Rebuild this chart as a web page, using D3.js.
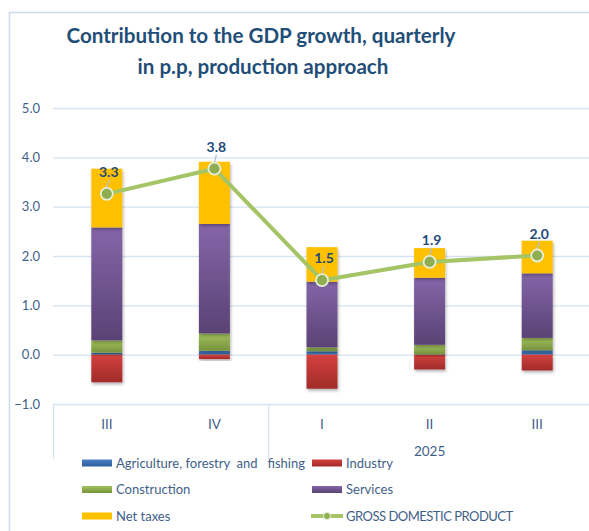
<!DOCTYPE html>
<html>
<head>
<meta charset="utf-8">
<script src="https://cdn.jsdelivr.net/npm/d3@7"></script>
<style>
  body { margin: 0; background: #fff; }
  svg { display: block; font-family: Lato, "Liberation Sans", sans-serif; }
</style>
</head>
<body>
<svg width="589" height="531"></svg>
<script>
(function () {
  'use strict';

  // quarters and year group
  const quarters = ['III', 'IV', 'I', 'II', 'III'];
  const yearLabel = '2025';
  const yTicks = [-1, 0, 1, 2, 3, 4, 5];

  // contributions in p.p.
  const agriculture  = [0.04, 0.08, 0.07, 0.01, 0.09];
  const industry     = [-0.56, -0.09, -0.69, -0.30, -0.32];
  const construction = [0.25, 0.35, 0.08, 0.19, 0.25];
  const services     = [2.29, 2.22, 1.33, 1.36, 1.31];
  const netTaxes     = [1.19, 1.26, 0.70, 0.60, 0.66];
  const gdp          = [3.26, 3.77, 1.51, 1.88, 2.01];

  const svg = d3.select('svg');
  const width = +svg.attr('width');
  const height = +svg.attr('height');

  const margin = {top: 108, right: -2, bottom: 127, left: 53};
  const innerW = width - margin.left - margin.right;
  const innerH = height - margin.top - margin.bottom;

  const series = [
    {key: 'agri', name: 'Agriculture, forestry  and   fishing', top: '#4a7fc4', bot: '#2f5f9e', values: agriculture},
    {key: 'ind', name: 'Industry', top: '#d4413e', bot: '#a02b29', values: industry},
    {key: 'con', name: 'Construction', top: '#a2c25e', bot: '#76923c', values: construction},
    {key: 'ser', name: 'Services', top: '#8466a8', bot: '#5a4275', values: services},
    {key: 'tax', name: 'Net taxes', top: '#ffc000', bot: '#ffc000', values: netTaxes}
  ];

  const rows = quarters.map((q, i) => {
    const r = {i: i};
    series.forEach(s => { r[s.key] = s.values[i]; });
    return r;
  });

  const stack = d3.stack()
    .keys(series.map(s => s.key))
    .offset(d3.stackOffsetDiverging);
  const stacked = stack(rows);

  const x = d3.scaleBand()
    .domain(d3.range(quarters.length))
    .range([0, innerW])
    .padding(0);
  const barW = 31;

  const y = d3.scaleLinear()
    .domain([-1, 5])
    .range([innerH, 0]);

  // gradients + shadow
  const defs = svg.append('defs');
  series.forEach(s => {
    const gr = defs.append('linearGradient')
      .attr('id', 'g-' + s.key)
      .attr('x1', 0).attr('y1', 0).attr('x2', 0).attr('y2', 1);
    gr.append('stop').attr('offset', '0%').attr('stop-color', s.top);
    gr.append('stop').attr('offset', '100%').attr('stop-color', s.bot);
  });
  defs.append('filter').attr('id', 'shadow')
    .attr('x', '-20%').attr('y', '-20%').attr('width', '150%').attr('height', '150%')
    .append('feDropShadow')
      .attr('dx', 1).attr('dy', 2).attr('stdDeviation', 1.5)
      .attr('flood-color', '#000').attr('flood-opacity', 0.3);

  // frame
  svg.append('rect')
    .attr('x', 9.5).attr('y', 12.5)
    .attr('width', 620).attr('height', 560)
    .attr('fill', 'none')
    .attr('stroke', '#c9dbef')
    .attr('stroke-width', 1.5);

  // title
  const title = svg.append('text')
    .attr('x', 261)
    .attr('text-anchor', 'middle')
    .attr('fill', '#1f4e79')
    .attr('font-weight', 'bold')
    .attr('font-size', 20.6);
  title.append('tspan').attr('x', 261).attr('y', 43).text('Contribution to the GDP growth, quarterly');
  title.append('tspan').attr('x', 263).attr('y', 74).text('in p.p, production approach');

  const g = svg.append('g')
    .attr('transform', `translate(${margin.left},${margin.top})`);

  // y axis + gridlines
  const yAxis = d3.axisLeft(y)
    .tickValues(yTicks)
    .tickFormat(d3.format('.1f'))
    .tickSize(-innerW)
    .tickPadding(13);
  const yAxisG = g.append('g').call(yAxis);
  yAxisG.select('.domain').remove();
  yAxisG.selectAll('line').attr('stroke', '#d6e3f3').attr('stroke-width', 1.3);
  yAxisG.selectAll('text')
    .attr('fill', '#3f5f8a')
    .attr('font-size', 13)
    .attr('font-family', 'Lato, sans-serif');

  // x axis (quarters)
  const xAxis = d3.axisBottom(x)
    .tickFormat(i => quarters[i])
    .tickSize(0)
    .tickPadding(15);
  const xAxisG = g.append('g')
    .attr('transform', `translate(0,${innerH})`)
    .call(xAxis);
  xAxisG.select('.domain').remove();
  xAxisG.selectAll('text')
    .attr('fill', '#3f5f8a')
    .attr('font-size', 13.5)
    .attr('font-family', 'Lato, sans-serif');

  // group separators
  [0, 2].forEach(i => {
    g.append('line')
      .attr('x1', x(i) + 0.5).attr('x2', x(i) + 0.5)
      .attr('y1', innerH).attr('y2', innerH + 55)
      .attr('stroke', '#d6e3f3')
      .attr('stroke-width', 1.3);
  });

  g.append('text')
    .attr('x', (x(2) + x(4) + x.bandwidth()) / 2)
    .attr('y', innerH + 52)
    .attr('text-anchor', 'middle')
    .attr('fill', '#3f5f8a')
    .attr('font-size', 13.5)
    .text(yearLabel);

  // bars
  const layer = g.selectAll('.layer').data(stacked)
    .enter().append('g')
      .attr('class', 'layer')
      .attr('fill', d => `url(#g-${d.key})`);

  layer.selectAll('rect').data(d => d)
    .enter().append('rect')
      .attr('x', d => x(d.data.i) + (x.bandwidth() - barW) / 2)
      .attr('y', d => y(Math.max(d[0], d[1])))
      .attr('width', barW)
      .attr('height', d => Math.abs(y(d[0]) - y(d[1])))
      .attr('filter', 'url(#shadow)');

  // GDP line
  const line = d3.line()
    .x((d, i) => x(i) + x.bandwidth() / 2)
    .y(d => y(d));

  g.append('path')
    .datum(gdp)
    .attr('d', line)
    .attr('fill', 'none')
    .attr('stroke', '#a4c466')
    .attr('stroke-width', 4)
    .attr('stroke-linejoin', 'round');

  // leader lines
  g.selectAll('.leader').data(gdp)
    .enter().append('line')
      .attr('x1', (d, i) => x(i) + x.bandwidth() / 2)
      .attr('x2', (d, i) => x(i) + x.bandwidth() / 2 + 2)
      .attr('y1', d => y(d) - 6)
      .attr('y2', d => y(d) - 14)
      .attr('stroke', '#a9c0dc')
      .attr('stroke-width', 1.2);

  g.selectAll('.dot').data(gdp)
    .enter().append('circle')
      .attr('cx', (d, i) => x(i) + x.bandwidth() / 2)
      .attr('cy', d => y(d))
      .attr('r', 6)
      .attr('fill', '#8fae52')
      .attr('stroke', '#e6efd8')
      .attr('stroke-width', 1.8);

  g.selectAll('.lbl').data(gdp)
    .enter().append('text')
      .attr('x', (d, i) => x(i) + x.bandwidth() / 2 + 2)
      .attr('y', d => y(d) - 17)
      .attr('text-anchor', 'middle')
      .attr('fill', '#244a7a')
      .attr('font-weight', 'bold')
      .attr('font-size', 14)
      .text(d => d3.format('.1f')(d));

  // legend
  const legendItems = series.map(s => ({name: s.name, key: s.key, type: 'bar'}))
    .concat([{name: 'GROSS DOMESTIC PRODUCT', type: 'line'}]);
  const legend = svg.append('g');
  const li = legend.selectAll('g').data(legendItems)
    .enter().append('g')
      .attr('transform', (d, i) => `translate(${i % 2 === 0 ? 82 : 312},${463 + Math.floor(i / 2) * 26.5})`);

  li.filter(d => d.type === 'bar').append('rect')
    .attr('x', 0).attr('y', -3.5)
    .attr('width', 30).attr('height', 7)
    .attr('fill', d => `url(#g-${d.key})`);

  const ll = li.filter(d => d.type === 'line');
  ll.append('line')
    .attr('x1', -1).attr('x2', 31).attr('y1', 0).attr('y2', 0)
    .attr('stroke', '#a4c466').attr('stroke-width', 4);
  ll.append('circle')
    .attr('cx', 15).attr('cy', 0).attr('r', 3.5)
    .attr('fill', '#8fae52').attr('stroke', '#e6efd8');

  li.append('text')
    .attr('x', 34)
    .attr('dy', '0.35em')
    .attr('fill', '#3f5f8a')
    .attr('font-size', 13)
    .attr('letter-spacing', d => d.type === 'line' ? -0.5 : 0)
    .style('white-space', 'pre')
    .text(d => d.name);
})();
</script>
</body>
</html>
